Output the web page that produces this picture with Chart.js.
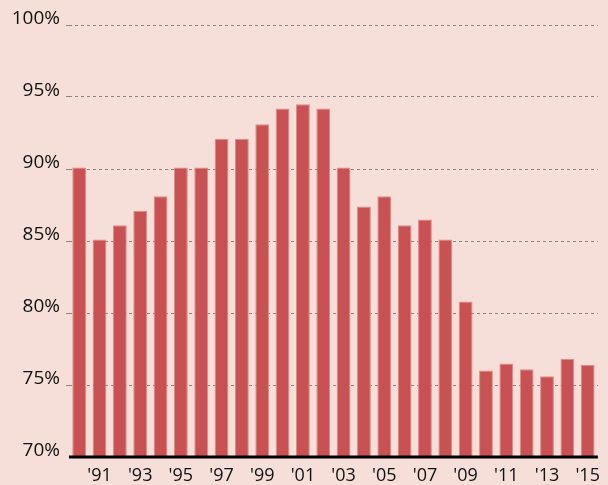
<!DOCTYPE html>
<html>
<head>
<meta charset="utf-8">
<script src="https://cdn.jsdelivr.net/npm/chart.js@4"></script>
<style>
  html, body { margin: 0; padding: 0; background: #f5dfd8; }
  #wrap { width: 608px; height: 485px; }
</style>
</head>
<body>
<div id="wrap"><canvas id="chart"></canvas></div>
<script>
// years shown on the axis, and share for each year (%)
const years = [1990, 1991, 1992, 1993, 1994, 1995, 1996, 1997, 1998, 1999,
    2000, 2001, 2002, 2003, 2004, 2005, 2006, 2007, 2008, 2009,
    2010, 2011, 2012, 2013, 2014, 2015];
const shares = [90.1, 85.1, 86.1, 87.1, 88.1, 90.1, 90.1, 92.1, 92.1, 93.1,
    94.2, 94.5, 94.2, 90.1, 87.4, 88.1, 86.1, 86.5, 85.1, 80.8,
    76.0, 76.5, 76.1, 75.6, 76.8, 76.4];
const yTicks = [70, 75, 80, 85, 90, 95, 100];

// black base line drawn over the bars, at the bottom of the y scale
const baseLine = {
    id: "baseLine",
    afterDatasetsDraw(chart) {
        const c = chart.ctx;
        const x = chart.scales.x;
        const y = chart.scales.y.getPixelForValue(70);
        c.save();
        c.strokeStyle = "#000";
        c.lineWidth = 3;
        c.beginPath();
        c.moveTo(x.left, y);
        c.lineTo(x.right, y);
        c.stroke();
        c.restore();
    }
};

const ctx = document.getElementById("chart").getContext("2d");

new Chart(ctx, {
    type: "bar",
    data: {
        labels: years,
        datasets: [{
            data: shares,
            backgroundColor: "#c85253",
            borderColor: "#e08a88",
            borderWidth: 1,
            barPercentage: 0.68,
            categoryPercentage: 1
        }]
    },
    options: {
        responsive: true,
        maintainAspectRatio: false,
        animation: false,
        layout: { padding: { top: 25, right: 3, left: 0, bottom: 0 } },
        plugins: {
            legend: { display: false },
            tooltip: { enabled: false }
        },
        scales: {
            x: {
                grid: { display: false, drawTicks: false },
                border: { display: false },
                ticks: {
                    autoSkip: false,
                    maxRotation: 0,
                    padding: 8,
                    color: "#111",
                    font: { family: "Open Sans", size: 18 },
                    callback: function (val, i) {
                        const y = years[i];
                        return y % 2 === 1 ? "'" + String(y).slice(2) : "";
                    }
                },
                afterFit: function (axis) { axis.height = 28; }
            },
            y: {
                min: 70,
                max: 100,
                afterBuildTicks: function (axis) {
                    axis.ticks = yTicks.map(v => ({ value: v }));
                },
                grid: {
                    color: function (c) {
                        return c.tick && c.tick.value === 70 ? "rgba(0,0,0,0)" : "#8a8482";
                    },
                    lineWidth: 1,
                    drawTicks: true,
                    tickLength: 3
                },
                border: { display: false, dash: [3, 3] },
                ticks: {
                    padding: 6,
                    labelOffset: -6,
                    color: "#111",
                    font: { family: "Open Sans", size: 19 },
                    callback: function (v) { return v + "%"; }
                },
                afterFit: function (axis) { axis.width = 69; }
            }
        }
    },
    plugins: [baseLine]
});
</script>
</body>
</html>
